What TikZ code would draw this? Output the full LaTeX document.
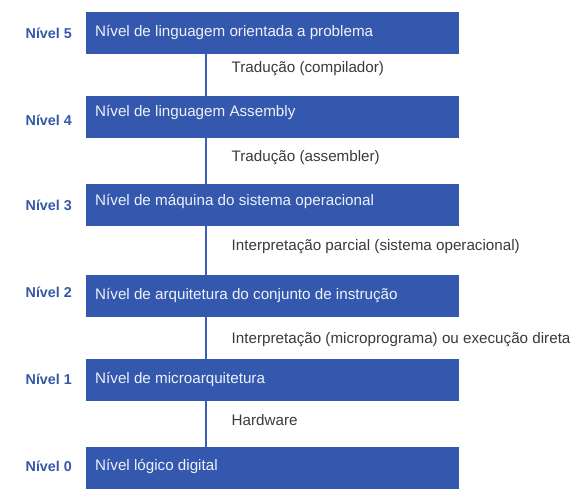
\documentclass[tikz,border=0pt]{standalone}
\usepackage{fontspec}
\setmainfont{Liberation Sans}
\definecolor{boxblue}{HTML}{3458AD}
\definecolor{lblblue}{HTML}{3557A8}
\definecolor{linblue}{HTML}{3A5FB8}
\definecolor{txtgray}{HTML}{3A3A3A}
\definecolor{boxtxt}{HTML}{EEF2FA}
\begin{document}
\begin{tikzpicture}[x=1pt,y=-1pt,
  levelbox/.style={draw=none,fill=boxblue,minimum width=373pt,minimum height=42pt,inner sep=0pt,anchor=north west},
  boxlabel/.style={text=boxtxt,anchor=base west,inner sep=0pt,font=\fontsize{15.2}{17}\selectfont},
  levellabel/.style={text=lblblue,anchor=base east,inner sep=0pt,font=\fontsize{14.3}{16}\selectfont\bfseries},
  steplabel/.style={text=txtgray,anchor=base west,inner sep=0pt,font=\fontsize{15.2}{17}\selectfont},
  conn/.style={draw=linblue,line width=1.1pt}]
\useasboundingbox (0,0) rectangle (586,499);
% boxes
\node[levelbox] (b5) at (86,12) {};
\node[levelbox] (b4) at (86,96) {};
\node[levelbox] (b3) at (86,184) {};
\node[levelbox] (b2) at (86,275) {};
\node[levelbox] (b1) at (86,359) {};
\node[levelbox] (b0) at (86,447) {};
% connector coordinates
\coordinate (c5) at (206,54);
\coordinate (c4t) at (206,96);
\coordinate (c4b) at (206,138);
\coordinate (c3t) at (206,184);
\coordinate (c3b) at (206,226);
\coordinate (c2t) at (206,275);
\coordinate (c2b) at (206,317);
\coordinate (c1t) at (206,359);
\coordinate (c1b) at (206,401);
\coordinate (c0) at (206,447);
\draw[conn] (c5) -- (c4t);
\draw[conn] (c4b) -- (c3t);
\draw[conn] (c3b) -- (c2t);
\draw[conn] (c2b) -- (c1t);
\draw[conn] (c1b) -- (c0);
\draw[conn,opacity=0.25] (c4t) -- (c4b);
\draw[conn,opacity=0.25] (c3t) -- (c3b);
\draw[conn,opacity=0.25] (c2t) -- (c2b);
\draw[conn,opacity=0.25] (c1t) -- (c1b);
% box texts
\node[boxlabel] (t5) at (95,36) {Nível de linguagem orientada a problema};
\node[boxlabel] (t4) at (95,116.5) {Nível de linguagem Assembly};
\node[boxlabel] (t3) at (95,205) {Nível de máquina do sistema operacional};
\node[boxlabel] (t2) at (95,299) {Nível de arquitetura do conjunto de instrução};
\node[boxlabel] (t1) at (95,383.5) {Nível de microarquitetura};
\node[boxlabel] (t0) at (95,470.5) {Nível lógico digital};
% level labels
\node[levellabel] (l5) at (72,38.3) {Nível 5};
\node[levellabel] (l4) at (72,125) {Nível 4};
\node[levellabel] (l3) at (72,210.7) {Nível 3};
\node[levellabel] (l2) at (72,297.7) {Nível 2};
\node[levellabel] (l1) at (72,384.3) {Nível 1};
\node[levellabel] (l0) at (72,471.7) {Nível 0};
% step labels
\node[steplabel] (s54) at (231.5,72.3) {Tradução (compilador)};
\node[steplabel] (s43) at (231.5,161) {Tradução (assembler)};
\node[steplabel] (s32) at (231.5,250.3) {Interpretação parcial (sistema operacional)};
\node[steplabel] (s21) at (231.5,343.3) {Interpretação (microprograma) ou execução direta};
\node[steplabel] (s10) at (231.5,425) {Hardware};
\end{tikzpicture}
\end{document}
